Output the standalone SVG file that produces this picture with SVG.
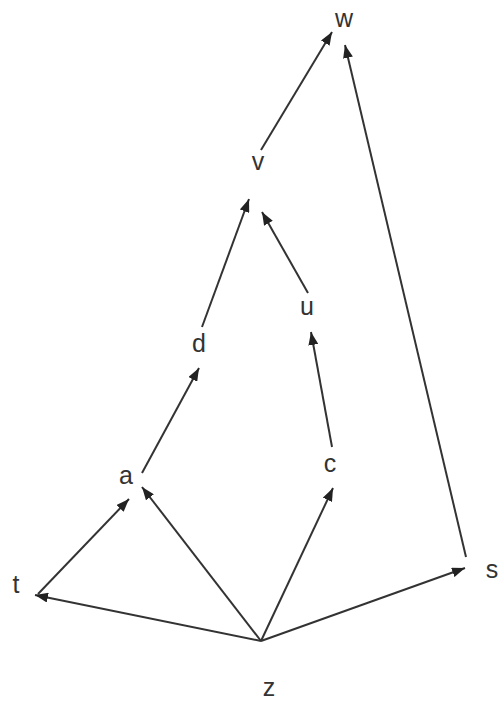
<svg xmlns="http://www.w3.org/2000/svg" width="501" height="702" viewBox="0 0 501 702">
<style>
.lbl{font-family:"Liberation Sans",Arial,sans-serif;font-size:25px;fill:#333;text-anchor:middle}
.e{stroke:#333;stroke-width:2;fill:none;marker-end:url(#ah)}
</style>
<defs>
<marker id="ah" markerUnits="userSpaceOnUse" markerWidth="14" markerHeight="10" refX="13" refY="5" orient="auto">
<path d="M0,0 L13,5 L0,10 Z" fill="#222"/>
</marker>
</defs>
<rect width="501" height="702" fill="#fff"/>
<g id="connectors">
<line class="e" x1="261" y1="150" x2="332" y2="32"/>
<line class="e" x1="466" y1="557" x2="345" y2="45"/>
<line class="e" x1="202" y1="327" x2="249" y2="199"/>
<line class="e" x1="308" y1="293" x2="262" y2="212"/>
<line class="e" x1="142" y1="473" x2="199" y2="368"/>
<line class="e" x1="332" y1="447" x2="311" y2="332"/>
<line class="e" x1="38" y1="594" x2="129" y2="499"/>
<line class="e" x1="261" y1="641" x2="35" y2="595"/>
<line class="e" x1="261" y1="641" x2="142" y2="487"/>
<line class="e" x1="261" y1="641" x2="333" y2="488"/>
<line class="e" x1="261" y1="641" x2="465" y2="568"/>
</g>
<g id="w"><text class="lbl" x="344" y="27">w</text></g>
<g id="v"><text class="lbl" x="258" y="170">v</text></g>
<g id="u"><text class="lbl" x="307" y="315">u</text></g>
<g id="d"><text class="lbl" x="199" y="352">d</text></g>
<g id="a"><text class="lbl" x="126" y="484">a</text></g>
<g id="c"><text class="lbl" x="330" y="472">c</text></g>
<g id="t"><text class="lbl" x="16" y="593">t</text></g>
<g id="s"><text class="lbl" x="492" y="578">s</text></g>
<g id="z"><text class="lbl" x="269" y="696">z</text></g>
</svg>
